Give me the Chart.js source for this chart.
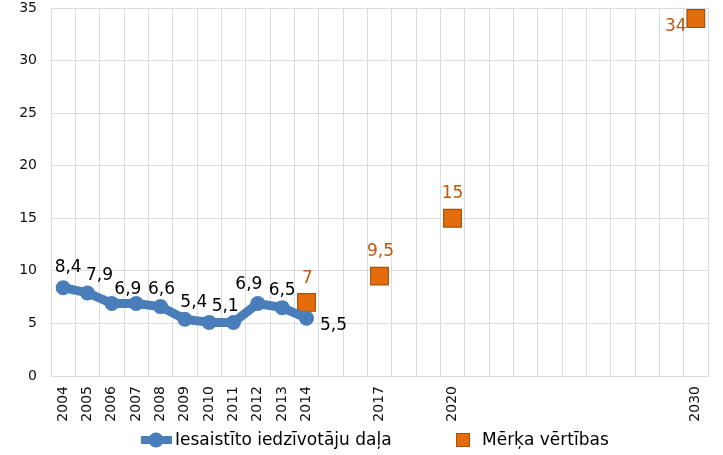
<!DOCTYPE html>
<html>
<head>
<meta charset="utf-8">
<script src="https://cdn.jsdelivr.net/npm/chart.js@4/dist/chart.umd.min.js"></script>
<style>
  html, body { margin: 0; padding: 0; background: #fff; }
  #wrap { width: 723px; height: 455px; }
</style>
</head>
<body>
<div id="wrap"><canvas id="chart" width="723" height="455"></canvas></div>
<script>
const years = []
for (let y = 2004; y <= 2030; y++) years.push(String(y))

const shownYears = ["2004", "2005", "2006", "2007", "2008", "2009", "2010", "2011", "2012", "2013", "2014", "2017", "2020", "2030"]

// Iesaistīto iedzīvotāju daļa, 2004-2014
const shareYears = ["2004", "2005", "2006", "2007", "2008", "2009", "2010", "2011", "2012", "2013", "2014"]
const shareValues = [8.4, 7.9, 6.9, 6.9, 6.6, 5.4, 5.1, 5.1, 6.9, 6.5, 5.5]
const shareLabels = ["8,4", "7,9", "6,9", null, "6,6", "5,4", "5,1", null, "6,9", "6,5", "5,5"]

// Mērķa vērtības
const targetYears = ["2014", "2017", "2020", "2030"]
const targetValues = [7, 9.5, 15, 34]
const targetLabels = ["7", "9,5", "15", "34"]

const font = "DejaVu Sans, Verdana, sans-serif"
const blue = "#4A7EBB"
const orange = "#E46C0A"

function toSeries(ys, vals) {
    return years.map(y => {
        const i = ys.indexOf(y)
        return i < 0 ? null : vals[i]
    })
}
function toLabels(ys, labs) {
    return years.map(y => {
        const i = ys.indexOf(y)
        return i < 0 ? null : labs[i]
    })
}

// label offsets relative to each point (px)
const shareOffsets = [[5, -20], [12, -17], [16, -14], [0, 0], [1, -17], [9, -17], [16, -16], [0, 0], [-9, -19], [0, -17], [27, 7]]
const targetOffsets = [[1, -24], [1, -25], [0, -25], [-20, 8]]

const labelPlugin = {
    id: "valueLabels",
    afterDatasetsDraw(chart) {
        const ctx = chart.ctx
        ctx.save()
        ctx.font = "17px " + font
        ctx.textAlign = "center"
        ctx.textBaseline = "middle"
        const sets = [
            { idx: 0, labels: toLabels(shareYears, shareLabels), offs: shareYears, o: shareOffsets, color: "#000" },
            { idx: 1, labels: toLabels(targetYears, targetLabels), offs: targetYears, o: targetOffsets, color: "#C0580E" }
        ]
        sets.forEach(s => {
            const meta = chart.getDatasetMeta(s.idx)
            meta.data.forEach((pt, i) => {
                const txt = s.labels[i]
                if (!txt) return
                const k = s.offs.indexOf(years[i])
                ctx.fillStyle = s.color
                ctx.fillText(txt, pt.x + s.o[k][0], pt.y + s.o[k][1])
            })
        })
        ctx.restore()
    },
    afterDraw(chart) {
        // legend
        const ctx = chart.ctx
        const y = 440
        ctx.save()
        ctx.strokeStyle = blue
        ctx.lineWidth = 8
        ctx.beginPath()
        ctx.moveTo(141, y)
        ctx.lineTo(172, y)
        ctx.stroke()
        ctx.fillStyle = blue
        ctx.beginPath()
        ctx.arc(156, y, 7.5, 0, Math.PI * 2)
        ctx.fill()
        ctx.fillStyle = orange
        ctx.fillRect(456, y - 7, 14, 14)
        ctx.strokeStyle = "#A5510C"
        ctx.lineWidth = 1
        ctx.strokeRect(456.5, y - 6.5, 13, 13)
        ctx.font = "17px " + font
        ctx.fillStyle = "#000"
        ctx.textBaseline = "middle"
        ctx.textAlign = "left"
        ctx.fillText("Iesaistīto iedzīvotāju daļa", 175, y + 1)
        ctx.fillText("Mērķa vērtības", 482, y + 1)
        ctx.restore()
    }
}

new Chart(document.getElementById("chart"), {
    type: "line",
    data: {
        labels: years,
        datasets: [
            {
                label: "Iesaistīto iedzīvotāju daļa",
                data: toSeries(shareYears, shareValues),
                borderColor: blue,
                backgroundColor: blue,
                borderWidth: 9,
                pointRadius: 7.5,
                pointBorderWidth: 0,
                pointBackgroundColor: blue,
                borderJoinStyle: "round",
                borderCapStyle: "round",
                spanGaps: false
            },
            {
                label: "Mērķa vērtības",
                data: toSeries(targetYears, targetValues),
                showLine: false,
                pointStyle: "rect",
                pointRadius: 12.5,
                pointBorderWidth: 1.2,
                pointBackgroundColor: orange,
                pointBorderColor: "#A5510C",
                clip: false
            }
        ]
    },
    options: {
        responsive: false,
        animation: false,
        layout: { autoPadding: false, padding: { top: 8, right: 15, left: 0, bottom: 0 } },
        plugins: {
            legend: { display: false },
            tooltip: { enabled: false }
        },
        scales: {
            x: {
                offset: true,
                afterFit(scale) {
                    scale.height = 79
                    scale.paddingLeft = 0
                    scale.paddingRight = 0
                },
                grid: { offset: true, color: "#DCDCDC", drawTicks: false },
                border: { color: "#DCDCDC" },
                ticks: {
                    autoSkip: false,
                    minRotation: 90,
                    maxRotation: 90,
                    padding: 10,
                    color: "#111",
                    font: { family: font, size: 14 },
                    callback(v, i) {
                        return shownYears.includes(years[i]) ? years[i] : ""
                    }
                }
            },
            y: {
                min: 0,
                max: 35,
                afterFit(scale) {
                    scale.width = 51
                    scale.paddingTop = 0
                    scale.paddingBottom = 0
                },
                grid: { color: "#DCDCDC", drawTicks: false },
                border: { color: "#DCDCDC" },
                ticks: {
                    stepSize: 5,
                    padding: 14,
                    color: "#111",
                    font: { family: font, size: 14 }
                }
            }
        }
    },
    plugins: [labelPlugin]
})
</script>
</body>
</html>
